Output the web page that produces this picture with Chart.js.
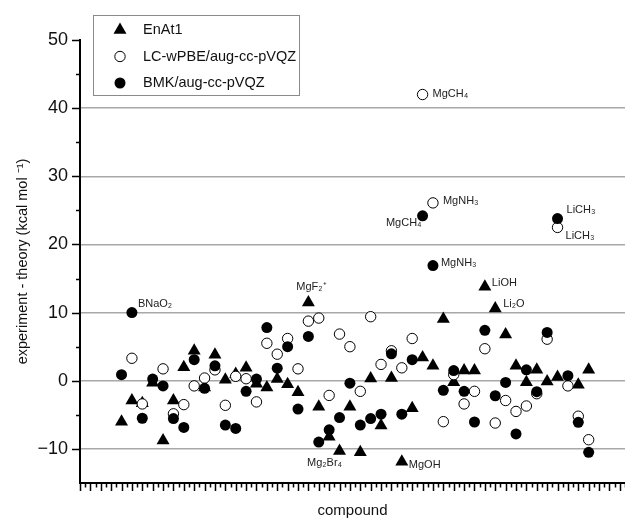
<!DOCTYPE html>
<html>
<head>
<meta charset="utf-8">
<script src="https://cdn.jsdelivr.net/npm/chart.js"></script>
<style>
  html, body { margin: 0; padding: 0; background: #fff; }
  #wrap { width: 625px; height: 518px; }
</style>
</head>
<body>
<div id="wrap"><canvas id="chart"></canvas></div>
<script>
// compound number along the x axis (no tick labels in the figure)
const compounds = [1, 2, 3, 4, 5, 6, 7, 8, 9, 10, 11, 12, 13, 14, 15, 16, 17, 18, 19, 20, 21, 22, 23,
  24, 25, 26, 27, 28, 29, 30, 31, 32, 33, 34, 35, 36, 37, 38, 39, 40, 41, 42, 43, 44, 45, 46];

// experiment - theory, kcal/mol
const enat1 = [-6.0, -2.9, -3.3, -0.3, -8.75, -2.9, 2.0, 4.4, -1.0, 3.8, 0.15, 1.0, 1.9, -0.45, -1.0,
  0.25, -0.5, -1.7, 11.5, -3.8, -8.2, -10.3, -3.8, -10.5, 0.35, -6.55, 0.4, -11.9, -4.05, 3.4, 2.2,
  9.05, -0.2, 1.5, 1.5, 13.8, 10.6, 6.8, 2.2, -0.2, 1.6, -0.1, 0.55, null, -0.6, 1.6];
const lcwpbe = [null, 3.3, -3.4, null, 1.75, -4.85, -3.5, -0.75, 0.4, 1.6, -3.6, 0.65, 0.3, -3.1, 5.5,
  3.9, 6.2, 1.75, 8.75, 9.2, -2.15, 6.85, 5.0, -1.55, 9.4, 2.4, 4.4, 1.9, 6.2, 42.0, 26.1,
  -6.0, 0.9, -3.4, -1.55, 4.7, -6.2, -2.9, -4.5, -3.7, -1.9, 6.1, 22.5, -0.75, -5.2, -8.65];
const bmk = [0.9, 10.0, -5.5, 0.25, -0.75, -5.55, -6.85, 3.1, -1.1, 2.2, -6.5, -7.0, -1.55, 0.25, 7.8,
  1.85, 5.0, -4.15, 6.5, -9.0, -7.2, -5.4, -0.35, -6.5, -5.55, -4.9, 3.95, -4.9, 3.1, 24.2, 16.9,
  -1.4, 1.5, -1.55, -6.05, 7.4, -2.2, -0.25, -7.8, 1.6, -1.6, 7.1, 23.8, 0.75, -6.1, -10.5];

const seriesNames = ['EnAt1', 'LC-wPBE/aug-cc-pVQZ', 'BMK/aug-cc-pVQZ'];
const yTicks = [-10, 0, 10, 20, 30, 40, 50];

// point annotations: [series, compound index, text]
const pointNotes = [
  [2, 1, 'BNaO₂'],
  [1, 29, 'MgCH₄'],
  [1, 30, 'MgNH₃'],
  [2, 29, 'MgCH₄'],
  [2, 42, 'LiCH₃'],
  [1, 42, 'LiCH₃'],
  [2, 30, 'MgNH₃'],
  [0, 35, 'LiOH'],
  [0, 36, 'Li₂O'],
  [0, 18, 'MgF₂⁺'],
  [0, 21, 'Mg₂Br₄'],
  [0, 27, 'MgOH']
];
// text placement relative to the point: dx, dy, align
const noteStyle = [
  [6, -9, 'left'], [10, -1, 'left'], [10, -2, 'left'], [-1, 7, 'right'],
  [9, -9, 'left'], [8, 9, 'left'], [8, -3, 'left'], [7, -4, 'left'],
  [8, -5, 'left'], [3, -15, 'center'], [-15, 12, 'center'], [7, 3, 'left']
];

const FONT = "'Liberation Sans', Arial, sans-serif";

const toPoints = vals => compounds.map((c, i) => ({ x: c, y: vals[i] }));

// minor and major tick marks drawn outside the plot
const tickMarks = {
  id: 'tickMarks',
  afterDraw(chart) {
    const { ctx, scales: { x, y } } = chart;
    ctx.save();
    ctx.strokeStyle = '#000';
    ctx.lineWidth = 1.5;
    ctx.beginPath();
    for (let v = y.min + 5; v <= y.max; v += 5) {
      const py = Math.round(y.getPixelForValue(v)) + 0.5;
      const len = v % 10 === 0 ? 8 : 4;
      ctx.moveTo(x.left - len, py);
      ctx.lineTo(x.left, py);
    }
    for (let v = x.min; v <= x.max; v += 0.5) {
      const px = Math.round(x.getPixelForValue(v)) + 0.5;
      const len = Number.isInteger(v) ? 8 : 4.5;
      ctx.moveTo(px, y.bottom);
      ctx.lineTo(px, y.bottom + len);
    }
    ctx.stroke();
    ctx.restore();
  }
};

const pointLabels = {
  id: 'pointLabels',
  afterDatasetsDraw(chart) {
    const ctx = chart.ctx;
    ctx.save();
    ctx.font = '11px ' + FONT;
    ctx.fillStyle = '#222';
    ctx.textBaseline = 'middle';
    pointNotes.forEach(([ds, idx, text], k) => {
      const el = chart.getDatasetMeta(ds).data[idx];
      const [dx, dy, align] = noteStyle[k];
      ctx.textAlign = align;
      ctx.fillText(text, el.x + dx, el.y + dy);
    });
    ctx.restore();
  }
};

const boxLegend = {
  id: 'boxLegend',
  afterDraw(chart, args, opts) {
    const ctx = chart.ctx;
    ctx.save();
    ctx.fillStyle = '#fff';
    ctx.fillRect(opts.left, opts.top, opts.width, opts.height);
    ctx.strokeStyle = '#8a8a8a';
    ctx.lineWidth = 1;
    ctx.strokeRect(opts.left + 0.5, opts.top + 0.5, opts.width, opts.height);
    ctx.font = '14.5px ' + FONT;
    ctx.textBaseline = 'middle';
    ctx.textAlign = 'left';
    chart.data.datasets.forEach((ds, i) => {
      const yy = opts.top + opts.firstRow + i * opts.rowGap;
      ctx.fillStyle = ds.backgroundColor;
      ctx.strokeStyle = ds.borderColor;
      ctx.lineWidth = ds.borderWidth;
      Chart.helpers.drawPoint(ctx, {
        pointStyle: ds.pointStyle, radius: ds.pointRadius, borderWidth: ds.borderWidth, rotation: 0
      }, opts.markerX, yy);
      ctx.fillStyle = '#111';
      ctx.fillText(ds.label, opts.textX, yy);
    });
    ctx.restore();
  }
};

new Chart(document.getElementById('chart'), {
  type: 'scatter',
  data: {
    datasets: [
      {
        label: seriesNames[0],
        data: toPoints(enat1),
        pointStyle: 'triangle',
        pointRadius: 7.5,
        backgroundColor: '#000',
        borderColor: '#000',
        borderWidth: 0,
        order: 3
      },
      {
        label: seriesNames[1],
        data: toPoints(lcwpbe),
        pointStyle: 'circle',
        pointRadius: 5.2,
        backgroundColor: '#fff',
        borderColor: '#000',
        borderWidth: 1,
        order: 2
      },
      {
        label: seriesNames[2],
        data: toPoints(bmk),
        pointStyle: 'circle',
        pointRadius: 5.5,
        backgroundColor: '#000',
        borderColor: '#000',
        borderWidth: 0,
        order: 1
      }
    ]
  },
  options: {
    responsive: true,
    maintainAspectRatio: false,
    animation: false,
    layout: { autoPadding: false, padding: { top: 40, right: 0, bottom: 0, left: 0 } },
    plugins: {
      legend: { display: false },
      tooltip: { enabled: false },
      boxLegend: { left: 93, top: 15, width: 206, height: 80, markerX: 120, textX: 143, firstRow: 15, rowGap: 26.5 }
    },
    scales: {
      x: {
        type: 'linear',
        min: -3,
        max: 49.5,
        afterFit: s => { s.height = 35; },
        ticks: { display: false },
        grid: { display: false, drawTicks: false },
        border: { display: true, color: '#000', width: 2 },
        title: {
          display: true,
          text: 'compound',
          color: '#111',
          font: { family: FONT, size: 15, lineHeight: 1 },
          padding: { top: 0, bottom: 0 }
        }
      },
      y: {
        min: -15,
        max: 50,
        afterFit: s => { s.width = 80; },
        afterBuildTicks: s => {
          s.ticks = [-15, -5, 5, 15, 25, 35, 45].concat(yTicks).sort((a, b) => a - b).map(v => ({ value: v }));
        },
        ticks: {
          padding: 12,
          color: '#111',
          font: { family: FONT, size: 18 },
          callback: v => (yTicks.includes(v) ? String(v).replace('-', '\u2212') : '')
        },
        grid: {
          drawTicks: false,
          lineWidth: 1.5,
          color: c => (yTicks.includes(c.tick.value) && c.tick.value < 50 ? '#a8a8a8' : 'rgba(0,0,0,0)')
        },
        border: { display: true, color: '#000', width: 2 },
        title: {
          display: true,
          text: 'experiment - theory (kcal mol ⁻¹)',
          color: '#111',
          font: { family: FONT, size: 14.5, lineHeight: 1.2 },
          padding: { top: 14, bottom: 0 }
        }
      }
    }
  },
  plugins: [tickMarks, pointLabels, boxLegend]
});
</script>
</body>
</html>
